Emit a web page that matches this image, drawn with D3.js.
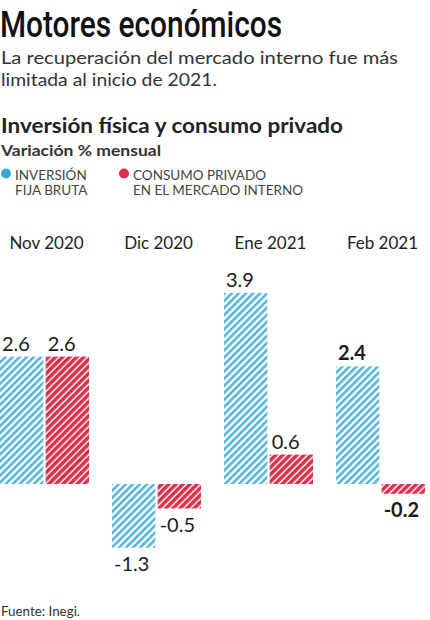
<!DOCTYPE html>
<html><head><meta charset="utf-8">
<script src="https://cdn.jsdelivr.net/npm/d3@7"></script>
<style>
html,body{margin:0;padding:0;background:#fff;}
svg{display:block;font-family:Lato,"Open Sans",sans-serif;}
</style></head>
<body><svg id="c" width="430" height="620"></svg>
<script>
const categories = ["Nov 2020","Dic 2020","Ene 2021","Feb 2021"];
const seriesNames = ["INVERSIÓN FIJA BRUTA","CONSUMO PRIVADO EN EL MERCADO INTERNO"];
const inversion = [2.6, -1.3, 3.9, 2.4];
const consumo = [2.6, -0.5, 0.6, -0.2];
const labelsInv = ["2.6","-1.3","3.9","2.4"];
const labelsCon = ["2.6","-0.5","0.6","-0.2"];
const boldCategory = "Feb 2021";

const svg = d3.select("#c");
const defs = svg.append("defs");
function stripes(id, bg, fg, w, period){
  const p = defs.append("pattern").attr("id", id).attr("patternUnits","userSpaceOnUse")
    .attr("width", period).attr("height", period).attr("patternTransform","rotate(45)");
  p.append("rect").attr("width", period).attr("height", period).attr("fill", bg);
  p.append("rect").attr("width", w).attr("height", period).attr("fill", fg);
}
stripes("hBlue", "#ffffff", "#56b4dc", 2.6, 5);
stripes("hRed", "#ffffff", "#d9314b", 3.6, 5);

// Headings
svg.append("text").attr("x",0).attr("y",37).attr("fill","#111")
  .style("font-family","Roboto, sans-serif").style("font-weight",500).style("font-size","37px")
  .attr("textLength",282).attr("lengthAdjust","spacingAndGlyphs").text("Motores económicos");
svg.append("text").attr("x",1).attr("y",64).attr("fill","#333").style("font-size","18px")
  .attr("textLength",397).attr("lengthAdjust","spacingAndGlyphs")
  .text("La recuperación del mercado interno fue más");
svg.append("text").attr("x",1).attr("y",86).attr("fill","#333").style("font-size","18px")
  .attr("textLength",216).attr("lengthAdjust","spacingAndGlyphs")
  .text("limitada al inicio de 2021.");
svg.append("text").attr("x",1).attr("y",133).attr("fill","#222").style("font-size","20px")
  .style("font-weight",700).attr("textLength",342).attr("lengthAdjust","spacingAndGlyphs")
  .text("Inversión física y consumo privado");
svg.append("text").attr("x",1).attr("y",156).attr("fill","#333").style("font-size","16px")
  .style("font-weight",700).attr("textLength",160).attr("lengthAdjust","spacingAndGlyphs")
  .text("Variación % mensual");

// Legend
const legend = [
  {c:"#3aa6d8", x:6, lines:["INVERSIÓN","FIJA BRUTA"]},
  {c:"#d9314b", x:124, lines:["CONSUMO PRIVADO","EN EL MERCADO INTERNO"]}
];
legend.forEach((l,i)=>{
  svg.append("circle").attr("cx",l.x).attr("cy",173.5).attr("r",5).attr("fill",l.c);
  l.lines.forEach((t,j)=>{
    svg.append("text").attr("x",l.x+9).attr("y",180+j*14.5).attr("fill","#444")
      .style("font-size","13.5px").text(t);
  });
});

// Scales
const x0 = d3.scaleBand().domain(categories).range([0,425]).paddingInner(0.205).paddingOuter(0);
const x1 = d3.scaleBand().domain([0,1]).range([0,x0.bandwidth()]).paddingInner(0.05).paddingOuter(0);
const y = d3.scaleLinear().domain([-1.5,4.0]).range([484+1.5*49, 484-4.0*49]);

// Category labels
svg.append("g").selectAll("text").data(categories).join("text")
  .attr("x", d=>x0(d)+x0.bandwidth()/2+2).attr("y",249).attr("text-anchor","middle")
  .attr("fill","#222").style("font-size","17px").text(d=>d);

const rows = categories.map((c,i)=>[
  {c, s:0, v:inversion[i], lab:labelsInv[i]},
  {c, s:1, v:consumo[i], lab:labelsCon[i]}
]).flat();

svg.append("g").selectAll("rect").data(rows).join("rect")
  .attr("x", d=>x0(d.c)+x1(d.s))
  .attr("width", x1.bandwidth())
  .attr("y", d=>y(Math.max(0,d.v)))
  .attr("height", d=>Math.abs(y(d.v)-y(0)))
  .attr("fill", d=> d.s===0 ? "url(#hBlue)" : "url(#hRed)");

svg.append("g").selectAll("text").data(rows).join("text")
  .attr("x", d=>x0(d.c)+x1(d.s)+2)
  .attr("y", d=> d.v>=0 ? y(d.v)-6 : y(d.v)+23)
  .attr("fill","#1a1a1a").style("font-size","20px")
  .style("font-weight", d=> d.c===boldCategory ? 700 : 400)
  .text(d=>d.lab);

svg.append("text").attr("x",1).attr("y",616).attr("fill","#333").style("font-size","13px")
  .attr("textLength",79).attr("lengthAdjust","spacingAndGlyphs")
  .text("Fuente: Inegi.");
</script></body></html>
